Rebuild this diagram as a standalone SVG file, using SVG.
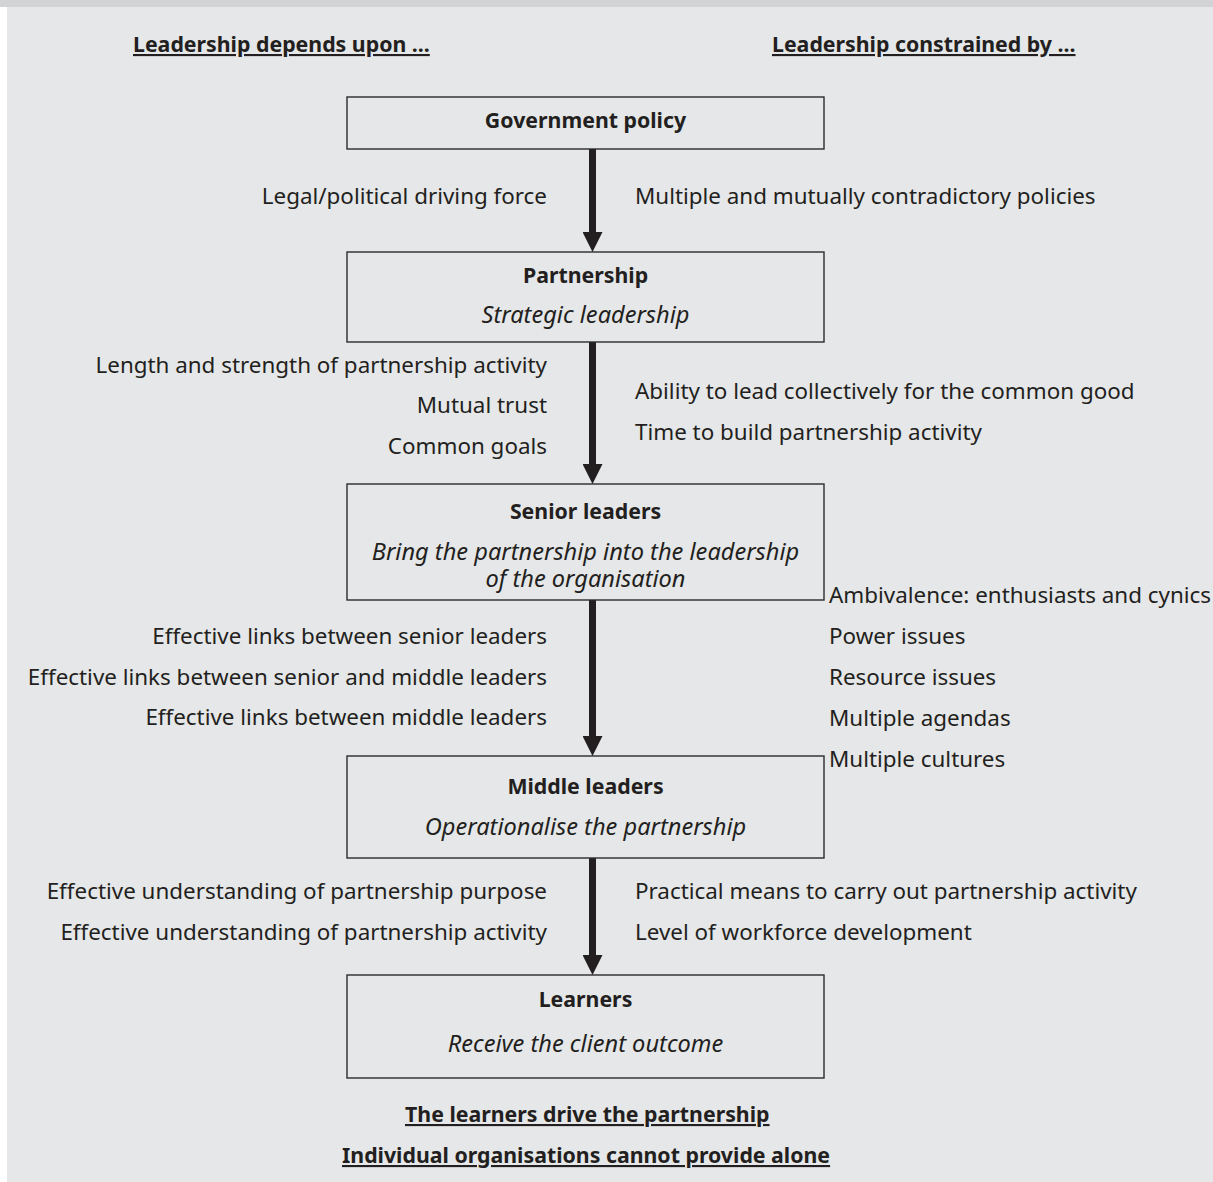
<svg xmlns="http://www.w3.org/2000/svg" width="1213" height="1182" viewBox="0 0 1213 1182">
<defs>
<style>
text{font-family:"Noto Sans","Open Sans","Liberation Sans",sans-serif;font-size:22.4px;fill:#231f20}
.b{font-weight:bold;font-size:21.3px}
.i{font-style:italic;font-size:23.6px}
.u{text-decoration:underline}
.m{text-anchor:middle}
.r{text-anchor:end}
.box{fill:none;stroke:#2b2b2b;stroke-width:1.4}
.shaft{stroke:#231f20;stroke-width:7;fill:none}
</style>
<marker id="ah" viewBox="0 0 20 20" markerWidth="20" markerHeight="20" refX="8" refY="10" orient="auto" markerUnits="userSpaceOnUse">
<path d="M0,0 L20,10 L0,20 z" fill="#231f20"/>
</marker>
</defs>
<rect x="0" y="0" width="1213" height="1182" fill="#e6e7e8"/>
<rect x="0" y="0" width="7" height="1182" fill="#ffffff"/>
<rect x="0" y="0" width="1213" height="7" fill="#d1d3d4"/>

<g id="headers">
<text class="b u" x="133" y="52">Leadership depends upon ...</text>
<text class="b u" x="772" y="52">Leadership constrained by ...</text>
</g>

<g id="connectors">
<line class="shaft" x1="592.5" y1="149" x2="592.5" y2="240" marker-end="url(#ah)"/>
<line class="shaft" x1="592.5" y1="342" x2="592.5" y2="472" marker-end="url(#ah)"/>
<line class="shaft" x1="592.5" y1="600" x2="592.5" y2="744" marker-end="url(#ah)"/>
<line class="shaft" x1="592.5" y1="858" x2="592.5" y2="963" marker-end="url(#ah)"/>
</g>

<g id="government">
<rect class="box" x="347" y="97" width="477" height="52"/>
<text class="b m" x="585.5" y="128">Government policy</text>
</g>

<g id="partnership">
<rect class="box" x="347" y="252" width="477" height="90"/>
<text class="b m" x="585.5" y="283">Partnership</text>
<text class="i m" x="585.5" y="323">Strategic leadership</text>
</g>

<g id="senior">
<rect class="box" x="347" y="484" width="477" height="116"/>
<text class="b m" x="585.5" y="519">Senior leaders</text>
<text class="i m"><tspan x="585.5" y="560">Bring the partnership into the leadership</tspan><tspan x="585.5" y="587">of the organisation</tspan></text>
</g>

<g id="middle">
<rect class="box" x="347" y="756" width="477" height="102"/>
<text class="b m" x="585.5" y="794">Middle leaders</text>
<text class="i m" x="585.5" y="835">Operationalise the partnership</text>
</g>

<g id="learners">
<rect class="box" x="347" y="975" width="477" height="103"/>
<text class="b m" x="585.5" y="1007">Learners</text>
<text class="i m" x="585.5" y="1052">Receive the client outcome</text>
</g>

<g id="depends-labels">
<text class="r" x="547" y="204">Legal/political driving force</text>
<text class="r" x="547" y="373">Length and strength of partnership activity</text>
<text class="r" x="547" y="413">Mutual trust</text>
<text class="r" x="547" y="454">Common goals</text>
<text class="r" x="547" y="644">Effective links between senior leaders</text>
<text class="r" x="547" y="685">Effective links between senior and middle leaders</text>
<text class="r" x="547" y="725">Effective links between middle leaders</text>
<text class="r" x="547" y="899">Effective understanding of partnership purpose</text>
<text class="r" x="547" y="940">Effective understanding of partnership activity</text>
</g>

<g id="constraint-labels">
<text x="635" y="204">Multiple and mutually contradictory policies</text>
<text x="635" y="399">Ability to lead collectively for the common good</text>
<text x="635" y="440">Time to build partnership activity</text>
<text x="829" y="603">Ambivalence: enthusiasts and cynics</text>
<text x="829" y="644">Power issues</text>
<text x="829" y="685">Resource issues</text>
<text x="829" y="726">Multiple agendas</text>
<text x="829" y="767">Multiple cultures</text>
<text x="635" y="899">Practical means to carry out partnership activity</text>
<text x="635" y="940">Level of workforce development</text>
</g>

<g id="footer">
<text class="b u" x="405" y="1122">The learners drive the partnership</text>
<text class="b u" x="342" y="1163">Individual organisations cannot provide alone</text>
</g>
</svg>
